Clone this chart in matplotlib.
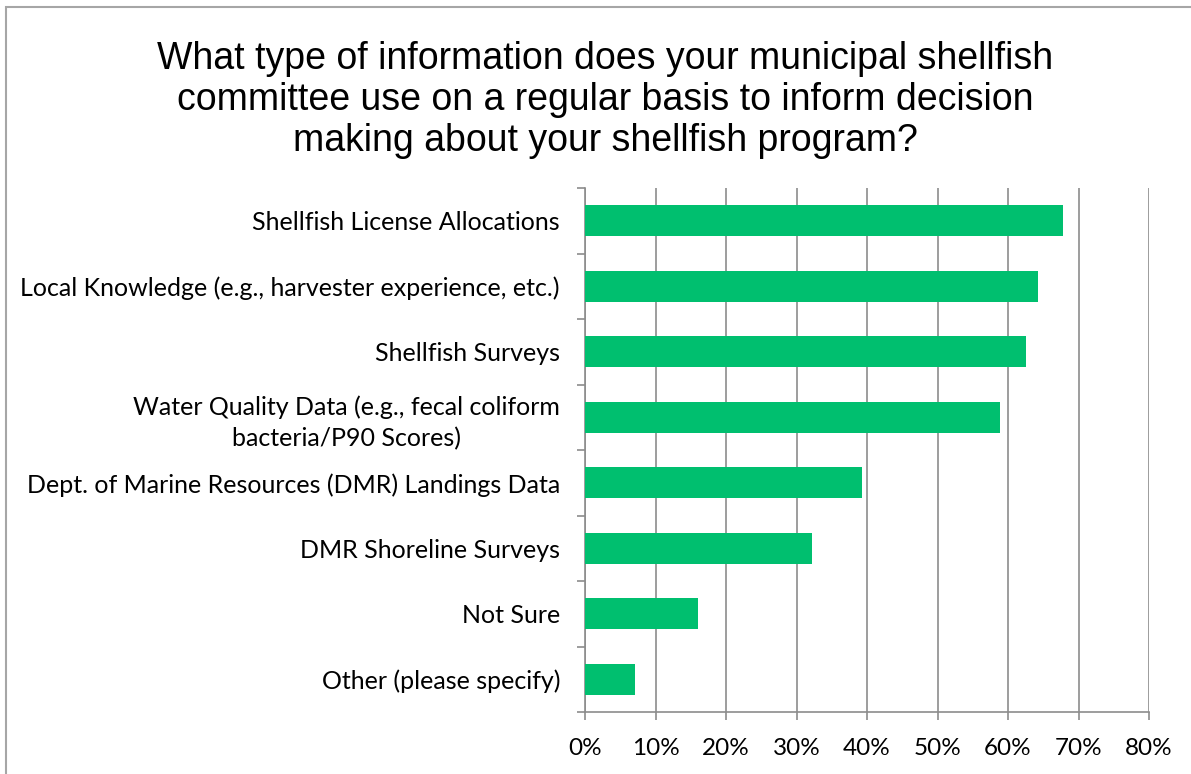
import numpy as np
import matplotlib.pyplot as plt
from matplotlib.patches import Rectangle

# Respostas da pesquisa (fração dos respondentes)
categorias = [
    "Shellfish License Allocations",
    "Local Knowledge (e.g., harvester experience, etc.)",
    "Shellfish Surveys",
    "Water Quality Data (e.g., fecal coliform\nbacteria/P90 Scores)",
    "Dept. of Marine Resources (DMR) Landings Data",
    "DMR Shoreline Surveys",
    "Not Sure",
    "Other (please specify)",
]
percentuais = [0.6786, 0.6429, 0.6250, 0.5893, 0.3929, 0.3214, 0.1607, 0.0714]
ticks_x = [0, 0.1, 0.2, 0.3, 0.4, 0.5, 0.6, 0.7, 0.8]
rotulos_x = ["0%", "10%", "20%", "30%", "40%", "50%", "60%", "70%", "80%"]

titulo = ("What type of information does your municipal shellfish\n"
          "committee use on a regular basis to inform decision\n"
          "making about your shellfish program?")

verde = "#00BF6F"
cinza = "#8C8C8C"
fonte = "Lato"

fig = plt.figure(figsize=(11.91, 7.74), dpi=100)
ax = fig.add_axes([585 / 1191, 1 - 712 / 774, (1149 - 585) / 1191, (712 - 188) / 774])

pos = np.arange(len(categorias))
ax.barh(pos, percentuais, height=0.48, color=verde, zorder=3)
ax.set_ylim(len(categorias) - 0.5, -0.5)
ax.set_xlim(0, 0.8)

ax.set_xticks(ticks_x)
ax.set_xticklabels(rotulos_x, fontsize=17.5, family=fonte)
ax.set_yticks(pos)
ax.set_yticklabels(categorias, fontsize=18, family=fonte,
                   multialignment="center", linespacing=1.4)
ax.set_yticks(np.arange(len(categorias) + 1) - 0.5, minor=True)

ax.tick_params(axis="y", which="major", length=0, pad=18)
ax.tick_params(axis="y", which="minor", length=6, color=cinza, width=1.2)
ax.tick_params(axis="x", length=6, color=cinza, width=1.2, pad=13)

ax.grid(axis="x", color=cinza, linewidth=1.2, zorder=0)
for lado in ["top", "right"]:
    ax.spines[lado].set_visible(False)
for lado in ["left", "bottom"]:
    ax.spines[lado].set_color(cinza)
    ax.spines[lado].set_linewidth(1.2)

fig.text(605 / 1191, 1 - 100 / 774, titulo, ha="center", va="center",
         fontsize=27, family="Liberation Sans", linespacing=1.18)

# moldura da área do gráfico
fig.patches.append(Rectangle((6 / 1191, -0.05), 1.0, 1.05 - 7 / 774,
                             transform=fig.transFigure, fill=False,
                             edgecolor="#A6A6A6", linewidth=1.5))

fig.savefig("out.png", dpi=100)
